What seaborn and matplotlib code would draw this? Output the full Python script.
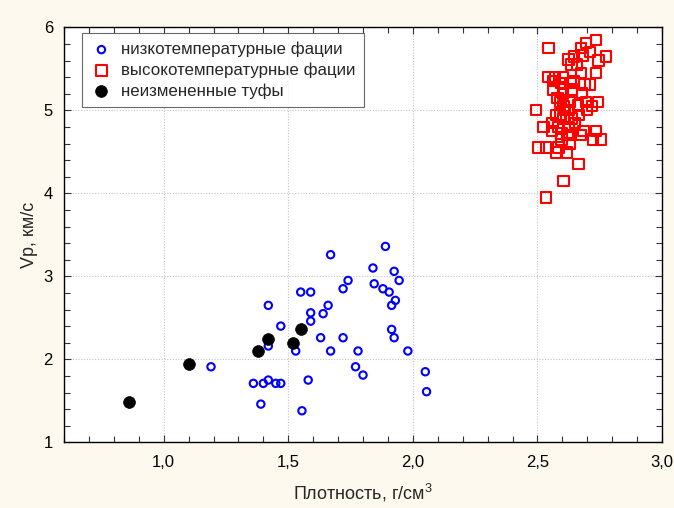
import numpy as np
import pandas as pd
import matplotlib
matplotlib.use("Agg")
import matplotlib.pyplot as plt
from matplotlib.ticker import MultipleLocator, FuncFormatter
import seaborn as sns

# --- data ---
low_x = [1.19, 1.36, 1.40, 1.42, 1.45, 1.47, 1.39, 1.42, 1.42, 1.47, 1.53, 1.55, 1.59, 1.59,
         1.59, 1.58, 1.555, 1.63, 1.64, 1.66, 1.67, 1.67, 1.72, 1.74, 1.72, 1.78, 1.77, 1.80,
         1.84, 1.845, 1.88, 1.89, 1.905, 1.925, 1.945, 1.93, 1.915, 1.915, 1.925, 1.98, 2.05, 2.055]
low_y = [1.91, 1.71, 1.71, 1.75, 1.71, 1.71, 1.46, 2.65, 2.16, 2.40, 2.10, 2.81, 2.81, 2.56,
         2.46, 1.75, 1.38, 2.26, 2.55, 2.65, 3.26, 2.10, 2.85, 2.95, 2.26, 2.10, 1.91, 1.81,
         3.10, 2.91, 2.85, 3.36, 2.81, 3.06, 2.95, 2.71, 2.65, 2.36, 2.26, 2.10, 1.85, 1.61]

high_x = [2.545, 2.735, 2.695, 2.675, 2.712, 2.681, 2.648, 2.776, 2.625, 2.745, 2.636, 2.675,
          2.735, 2.545, 2.571, 2.602, 2.645, 2.565, 2.596, 2.632, 2.689, 2.712, 2.565, 2.602,
          2.636, 2.679, 2.602, 2.592, 2.628, 2.695, 2.743, 2.663, 2.605, 2.719, 2.494, 2.625,
          2.665, 2.574, 2.605, 2.636, 2.524, 2.585, 2.625, 2.558, 2.685, 2.736, 2.675, 2.596,
          2.628, 2.596, 2.723, 2.756, 2.628, 2.505, 2.535, 2.585, 2.576, 2.616, 2.665, 2.605,
          2.535, 2.58, 2.61, 2.56, 2.66, 2.70, 2.62, 2.59, 2.65]
high_y = [5.75, 5.85, 5.81, 5.75, 5.70, 5.66, 5.65, 5.65, 5.61, 5.60, 5.55, 5.45,
          5.45, 5.40, 5.40, 5.40, 5.35, 5.35, 5.33, 5.33, 5.31, 5.31, 5.25, 5.25,
          5.25, 5.21, 5.20, 5.10, 5.10, 5.10, 5.10, 5.06, 5.05, 5.05, 5.00, 5.00,
          4.94, 4.94, 4.90, 4.90, 4.80, 4.80, 4.80, 4.75, 4.75, 4.75, 4.70, 4.72,
          4.70, 4.65, 4.65, 4.65, 4.60, 4.55, 4.55, 4.55, 4.49, 4.49, 4.35, 4.15,
          3.95, 5.15, 5.00, 4.85, 5.55, 5.00, 4.70, 4.95, 4.85]

tuff_x = [0.86, 1.10, 1.38, 1.42, 1.52, 1.55]
tuff_y = [1.49, 1.94, 2.10, 2.25, 2.20, 2.36]

labels = ["низкотемпературные фации", "высокотемпературные фации", "неизмененные туфы"]
x_ticks = [1.0, 1.5, 2.0, 2.5, 3.0]
y_ticks = [1, 2, 3, 4, 5, 6]

sns.set_style("white")
plt.rcParams["font.family"] = ["Liberation Sans", "DejaVu Sans"]
plt.rcParams["mathtext.fontset"] = "custom"
plt.rcParams["mathtext.rm"] = "Liberation Sans"

bg = "#FDF9EE"
fig = plt.figure(figsize=(6.74, 5.08), dpi=100, facecolor=bg)
ax = fig.add_axes([64 / 674, 1 - 442.3 / 508, 598 / 674, 415 / 508])
ax.set_facecolor("white")

df_low = pd.DataFrame({"x": low_x, "y": low_y})
df_high = pd.DataFrame({"x": high_x, "y": high_y})
df_tuff = pd.DataFrame({"x": tuff_x, "y": tuff_y})

sns.scatterplot(data=df_low, x="x", y="y", ax=ax, marker="o", s=28,
                facecolors="none", edgecolor="#0000FF", linewidth=1.5,
                label=labels[0], zorder=3)
sns.scatterplot(data=df_high, x="x", y="y", ax=ax, marker="s", s=56,
                facecolors="none", edgecolor="#FF0000", linewidth=1.5,
                label=labels[1], zorder=3)
sns.scatterplot(data=df_tuff, x="x", y="y", ax=ax, marker="o", s=72,
                color="black", edgecolor="black", linewidth=0.5,
                label=labels[2], zorder=4)

ax.set_xlim(0.6, 3.0)
ax.set_ylim(1, 6)
ax.set_xticks(x_ticks)
ax.set_yticks(y_ticks)
ax.xaxis.set_major_formatter(FuncFormatter(lambda v, p: f"{v:.1f}".replace(".", ",")))
ax.yaxis.set_major_formatter(FuncFormatter(lambda v, p: f"{v:.0f}"))
ax.xaxis.set_minor_locator(MultipleLocator(0.1))
ax.yaxis.set_minor_locator(MultipleLocator(0.2))
ax.tick_params(which="both", direction="in", top=True, right=True,
               bottom=True, left=True, colors="#333333", labelcolor="black")
ax.tick_params(which="major", length=5, width=0.8, labelsize=12)
ax.tick_params(which="minor", length=4, width=0.8)
ax.tick_params(axis="x", which="major", pad=9)
ax.tick_params(axis="y", which="major", pad=8)
ax.grid(True, which="major", linestyle=(0, (1, 1.5)), color="#C4C4C4", linewidth=0.8)
for sp in ax.spines.values():
    sp.set_color("black")
    sp.set_linewidth(1.0)

ax.set_xlabel("Плотность, г/см$^3$", fontsize=13, labelpad=9)
ax.set_ylabel("Vp, км/с", fontsize=13, labelpad=4)

leg = ax.legend(loc="upper left", bbox_to_anchor=(0.03, 0.986), frameon=True,
                fancybox=False, edgecolor="#444444", fontsize=12.2,
                handletextpad=0.5, borderpad=0.5, labelspacing=0.32,
                handlelength=1.3, borderaxespad=0.0)
leg.get_frame().set_linewidth(0.8)

fig.savefig("out.png", dpi=100, facecolor=bg)
